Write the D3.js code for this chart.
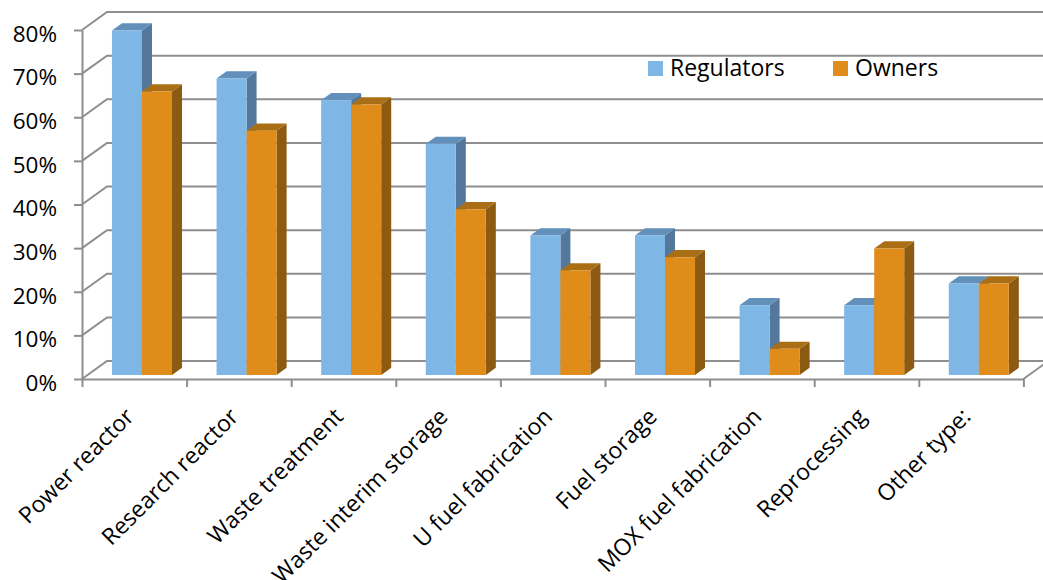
<!DOCTYPE html>
<html>
<head>
<meta charset="utf-8">
<script src="https://cdn.jsdelivr.net/npm/d3@7"></script>
<style>
  html, body { margin: 0; padding: 0; background: #fff; }
  svg { display: block; font-family: "Open Sans", "Noto Sans", sans-serif; }
</style>
</head>
<body>
<svg id="chart" width="1043" height="580"></svg>
<script>
// Facility types surveyed
const categories = [
  "Power reactor", "Research reactor", "Waste treatment", "Waste interim storage",
  "U fuel fabrication", "Fuel storage", "MOX fuel fabrication", "Reprocessing", "Other type:"
];
// Share of respondents (%)
const regulators = [79, 68, 63, 53, 32, 32, 16, 16, 21];
const owners     = [65, 56, 62, 38, 24, 27, 6, 29, 21];
const seriesNames = ["Regulators", "Owners"];
const yTicks = [0, 10, 20, 30, 40, 50, 60, 70, 80];

const palette = {
  Regulators: { front: "#7EB6E6", top: "#6390BB", side: "#53789B" },
  Owners:     { front: "#DF8C1A", top: "#AA6E14", side: "#8C5A10" }
};

const svg = d3.select("#chart");
const W = 1043;

// Oblique 3-D projection: depth z in [0,1] shifts right and up
const DX = 25, DY = -18;
const x = d3.scaleBand().domain(categories).range([82, 1023.4]).padding(0);
const xEdge = d3.scaleLinear().domain([0, categories.length]).range([82, 1023.4]);
const y = d3.scaleLinear().domain([0, 80]).range([379, 30]);
const bw = x.bandwidth();
const xs = d3.scaleBand().domain(seriesNames).range([0.234 * bw, 0.808 * bw]).padding(0);
const P = (px, v, z) => [px + z * DX, y(v) + z * DY];
const Z0 = 0.22, Z1 = 0.62;

const gridColor = "#8E8E8E";

// Walls: left-wall diagonals and back-wall horizontals for each tick
const grid = svg.append("g").attr("fill", "none").attr("stroke", gridColor).attr("stroke-width", 2);
yTicks.forEach(t => {
  const a = P(82, t, 0), b = P(82, t, 1);
  grid.append("path").attr("d", `M${a[0]},${a[1]}L${b[0]},${b[1]}L${W + 10},${b[1]}`);
});

// Floor: right edge
const floorR0 = P(xEdge(categories.length), 0, 0), floorR1 = P(xEdge(categories.length), 0, 1);
grid.append("path").attr("d", `M${floorR0[0]},${floorR0[1]}L${floorR1[0]},${floorR1[1]}`);

// Front vertical axis with percentage labels
const yAxis = d3.axisLeft(y).tickValues(yTicks).tickSize(8).tickSizeOuter(0).tickPadding(17)
  .tickFormat(d => d + "%");
const gy = svg.append("g").attr("transform", "translate(82,0)").call(yAxis);
gy.selectAll("path, line").attr("stroke", gridColor).attr("stroke-width", 2);
gy.selectAll("text").attr("fill", "#000").attr("font-size", 22.5).attr("dy", "0.5em")
  .style("font-family", "'Open Sans', sans-serif");

// Front category axis with boundary ticks
const xAxis = d3.axisBottom(xEdge).tickValues(d3.range(categories.length + 1))
  .tickSize(8).tickSizeOuter(0).tickFormat("");
const gx = svg.append("g").attr("transform", "translate(0,379)").call(xAxis);
gx.selectAll("path, line").attr("stroke", gridColor).attr("stroke-width", 2);

// Bars: side face, top face, front face
const seriesData = { Regulators: regulators, Owners: owners };
const bars = svg.append("g");
const poly = pts => "M" + pts.map(p => p.join(",")).join("L") + "Z";
categories.forEach((c, i) => {
  seriesNames.forEach(s => {
    const v = seriesData[s][i];
    const col = palette[s];
    const x0 = x(c) + xs(s), x1 = x0 + xs.bandwidth();
    const fBL = P(x0, 0, Z0), fTL = P(x0, v, Z0), fTR = P(x1, v, Z0), fBR = P(x1, 0, Z0);
    const bTL = P(x0, v, Z1), bTR = P(x1, v, Z1), bBR = P(x1, 0, Z1);
    bars.append("path").attr("d", poly([fBR, fTR, bTR, bBR])).attr("fill", col.side);
    bars.append("path").attr("d", poly([fTL, bTL, bTR, fTR])).attr("fill", col.top);
    bars.append("path").attr("d", poly([fBL, fTL, fTR, fBR])).attr("fill", col.front);
  });
});

// Rotated category labels
svg.append("g").selectAll("text").data(categories).join("text")
  .attr("transform", d => `translate(${x(d) + bw / 2 + 1},418) rotate(-45)`)
  .attr("text-anchor", "end")
  .attr("font-size", 23)
  .attr("fill", "#000")
  .text(d => d);

// Legend
const legendX = [648, 833];
const lg = svg.append("g").selectAll("g").data(seriesNames).join("g")
  .attr("transform", (d, i) => `translate(${legendX[i]},61)`);
lg.append("rect").attr("width", 15).attr("height", 15).attr("fill", d => palette[d].front);
lg.append("text").attr("x", 22).attr("y", 14.5).attr("font-size", 23).attr("fill", "#000").text(d => d);
</script>
</body>
</html>
